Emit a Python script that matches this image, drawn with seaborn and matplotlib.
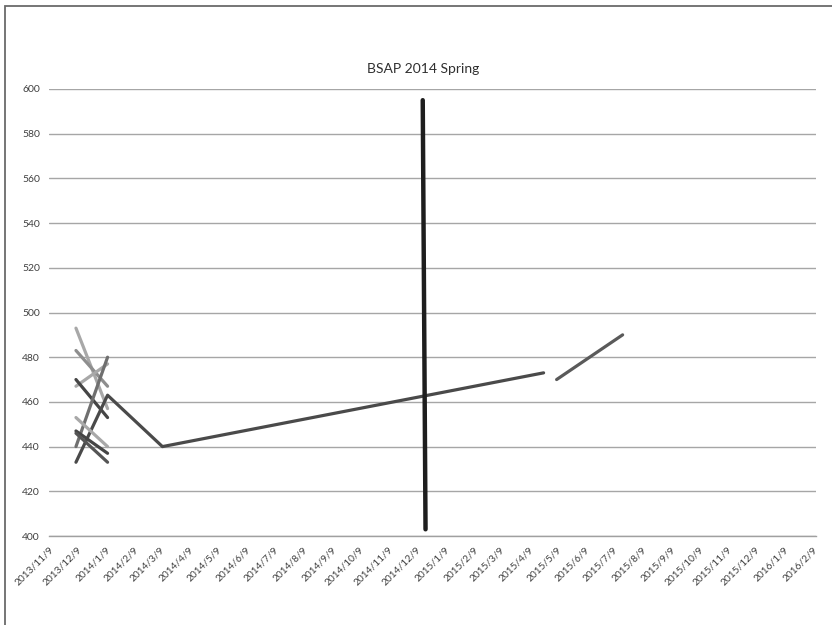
import matplotlib
matplotlib.use("Agg")
import matplotlib.pyplot as plt
from matplotlib.patches import Rectangle
import seaborn as sns
import pandas as pd

# Per-student score series (date, BSAP score)
s01_dates = ["2013-12-05", "2014-01-08"]
s01_scores = [493, 457]
s02_dates = ["2013-12-05", "2014-01-08"]
s02_scores = [483, 467]
s03_dates = ["2013-12-05", "2014-01-08"]
s03_scores = [467, 477]
s04_dates = ["2013-12-05", "2014-01-08"]
s04_scores = [470, 453]
s05_dates = ["2013-12-05", "2014-01-08"]
s05_scores = [440, 480]
s06_dates = ["2013-12-05", "2014-01-08", "2014-03-08", "2015-04-22"]
s06_scores = [433, 463, 440, 473]
s07_dates = ["2013-12-05", "2014-01-08"]
s07_scores = [453, 440]
s08_dates = ["2013-12-05", "2014-01-08"]
s08_scores = [447, 437]
s09_dates = ["2013-12-05", "2014-01-08"]
s09_scores = [446, 433]
s10_dates = ["2015-05-06", "2015-07-16"]
s10_scores = [470, 490]
s11_dates = ["2014-12-13", "2014-12-16"]
s11_scores = [595, 403]

students = ["s01", "s02", "s03", "s04", "s05", "s06", "s07", "s08", "s09", "s10", "s11"]
student_colors = ["#a8a8a8", "#8e8e8e", "#a8a8a8", "#454545", "#6f6f6f", "#4a4a4a",
                  "#a8a8a8", "#454545", "#555555", "#5a5a5a", "#1e1e1e"]

series = {
    "s01": (s01_dates, s01_scores), "s02": (s02_dates, s02_scores),
    "s03": (s03_dates, s03_scores), "s04": (s04_dates, s04_scores),
    "s05": (s05_dates, s05_scores), "s06": (s06_dates, s06_scores),
    "s07": (s07_dates, s07_scores), "s08": (s08_dates, s08_scores),
    "s09": (s09_dates, s09_scores), "s10": (s10_dates, s10_scores),
    "s11": (s11_dates, s11_scores),
}

tick_start = "2013-11-09"
tick_end = "2016-02-09"
title_text = "BSAP 2014 Spring"

rows = []
for name, (ds, vs) in series.items():
    for order, (d, v) in enumerate(zip(ds, vs)):
        rows.append({"student": name, "date": pd.Timestamp(d), "score": v, "order": order})
df = pd.DataFrame(rows)
palette = dict(zip(students, student_colors))

sns.set_theme(style="white")
plt.rcParams["font.family"] = ["Lato", "DejaVu Sans"]

fig = plt.figure(figsize=(8.32, 6.25), dpi=100)
ax = fig.add_axes([49 / 832, 1 - 536 / 625, (816 - 49) / 832, (536 - 89) / 625])

regular = df[df["student"] != "s11"]
sns.lineplot(data=regular, x="date", y="score", hue="student", palette=palette,
             estimator=None, sort=False, units="student", linewidth=2.3,
             legend=False, ax=ax)
sns.lineplot(data=df[df["student"] == "s11"], x="date", y="score", hue="student",
             palette=palette, estimator=None, sort=False, linewidth=3.2,
             legend=False, ax=ax)

ax.set_ylim(400, 600)
ax.set_yticks(range(400, 601, 20))
ticks = pd.date_range(tick_start, tick_end, freq=pd.DateOffset(months=1))
# a few days of margin before the first month tick
ax.set_xlim(ticks[0] - pd.Timedelta(days=3), ticks[-1])
ax.set_xticks(ticks)
ax.set_xticklabels([f"{t.year}/{t.month}/{t.day}" for t in ticks],
                   rotation=45, ha="right", va="center", rotation_mode="anchor",
                   fontsize=7.3, color="#404040")
for lab in ax.get_yticklabels():
    lab.set_fontsize(7.5)
    lab.set_color("#404040")
ax.tick_params(axis="x", length=0, pad=9)
ax.tick_params(axis="y", length=0, pad=6.5)
ax.set_xlabel("")
ax.set_ylabel("")

ax.yaxis.grid(True, color="#a6a6a6", linewidth=1.0)
ax.xaxis.grid(False)
ax.set_axisbelow(True)
for side in ["left", "right", "top"]:
    ax.spines[side].set_visible(False)
ax.spines["bottom"].set_color("#a0a0a0")
ax.spines["bottom"].set_linewidth(1.0)

fig.text(423 / 832, 1 - 69 / 625, title_text, ha="center", va="center",
         fontsize=10, color="#303030")

# outer chart frame
fig.patches.append(Rectangle((5 / 832, -0.05), 1.2, 1 - 6 / 625 + 0.05,
                             transform=fig.transFigure, fill=False,
                             edgecolor="#6a6a6a", linewidth=1.3))

fig.savefig("out.png", dpi=100)
